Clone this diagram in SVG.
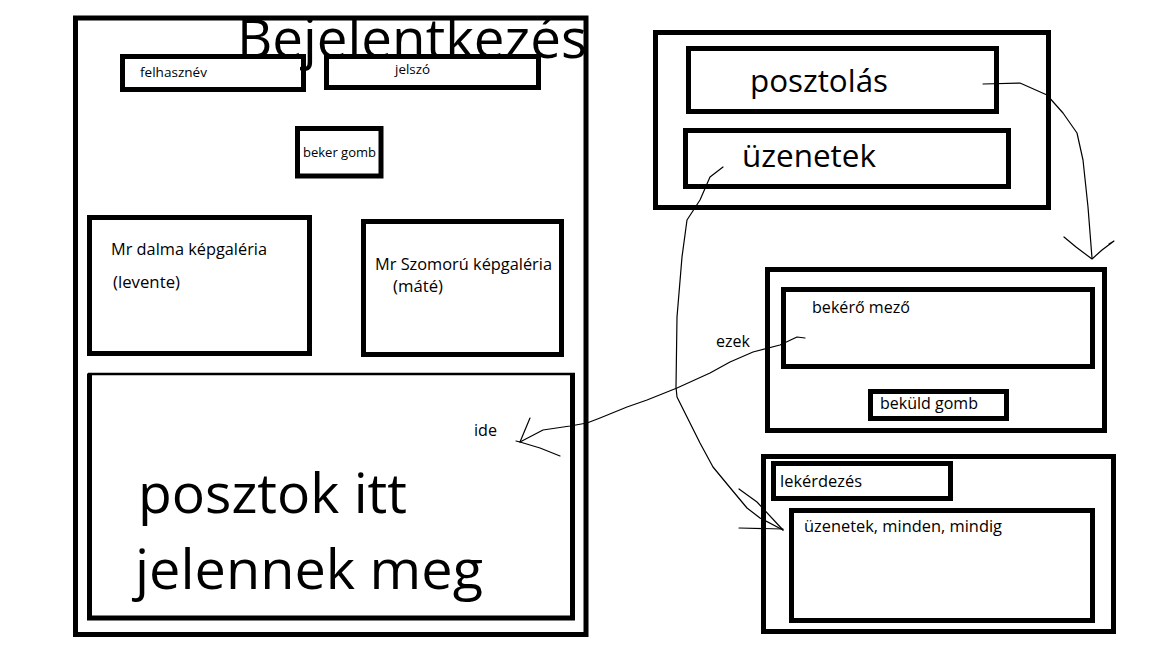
<svg xmlns="http://www.w3.org/2000/svg" width="1152" height="648" viewBox="0 0 1152 648">
<style>
.box{fill:none;stroke:#000;stroke-width:5}
.thin{fill:none;stroke:#000;stroke-width:2.5}
.wire{fill:none;stroke:#000;stroke-width:1.2;stroke-linejoin:round;stroke-linecap:round}
text{font-family:"Open Sans","Liberation Sans",sans-serif;fill:#000}
.s{font-size:13px}
.m{font-size:15.5px}
.l{font-size:31px}
.xl{font-size:54px}
</style>
<rect width="1152" height="648" fill="#fff"/>

<g id="login-page">
  <rect class="box" x="75.5" y="18" width="510.5" height="616.5"/>
  <text class="xl" x="237" y="58" textLength="350" lengthAdjust="spacingAndGlyphs">Bejelentkezés</text>
</g>
<g id="felhasznev">
  <rect class="box" x="122.5" y="56.5" width="181" height="33"/>
  <text class="s" x="140" y="77" textLength="67" lengthAdjust="spacingAndGlyphs">felhasznév</text>
</g>
<g id="jelszo">
  <rect class="box" x="326.5" y="56.5" width="212" height="31"/>
  <text class="s" x="395" y="74" textLength="35" lengthAdjust="spacingAndGlyphs">jelszó</text>
</g>
<g id="beker-gomb">
  <rect class="box" x="297.5" y="128.5" width="83.5" height="47.5"/>
  <text class="s" x="303" y="157" textLength="73" lengthAdjust="spacingAndGlyphs">beker gomb</text>
</g>
<g id="dalma-galeria">
  <rect class="box" x="89.5" y="217.5" width="220" height="136"/>
  <text class="m" x="111" y="255" textLength="156" lengthAdjust="spacingAndGlyphs">Mr dalma képgaléria</text>
  <text class="m" x="113" y="288" textLength="67" lengthAdjust="spacingAndGlyphs">(levente)</text>
</g>
<g id="szomoru-galeria">
  <rect class="box" x="363.5" y="221.5" width="198" height="133"/>
  <text class="m" x="375" y="270" textLength="177" lengthAdjust="spacingAndGlyphs">Mr Szomorú képgaléria</text>
  <text class="m" x="393" y="292" textLength="50" lengthAdjust="spacingAndGlyphs">(máté)</text>
</g>
<g id="posztok">
  <path class="box" d="M89.5,373.5 L89.5,618 L572.5,618 L572.5,373.5"/>
  <line class="thin" x1="88" y1="374" x2="575" y2="374"/>
  <text class="m" x="474" y="436" textLength="23" lengthAdjust="spacingAndGlyphs">ide</text>
  <text class="xl" x="138" y="513" textLength="269" lengthAdjust="spacingAndGlyphs">posztok itt</text>
  <text class="xl" x="135" y="589" textLength="348" lengthAdjust="spacingAndGlyphs">jelennek meg</text>
</g>

<g id="menu">
  <rect class="box" x="655.5" y="32.5" width="393" height="175"/>
</g>
<g id="posztolas">
  <rect class="box" x="688.5" y="48.5" width="308" height="63"/>
  <text class="l" x="750" y="92" textLength="138" lengthAdjust="spacingAndGlyphs">posztolás</text>
</g>
<g id="uzenetek">
  <rect class="box" x="685.5" y="130.5" width="323" height="56"/>
  <text class="l" x="742" y="167" textLength="134" lengthAdjust="spacingAndGlyphs">üzenetek</text>
</g>

<g id="posztolas-panel">
  <rect class="box" x="767.5" y="269.5" width="337" height="161"/>
</g>
<g id="bekero-mezo">
  <rect class="box" x="783.5" y="289.5" width="309" height="77"/>
  <text class="m" x="812" y="313" textLength="98" lengthAdjust="spacingAndGlyphs">bekérő mező</text>
</g>
<g id="bekuld-gomb">
  <rect class="box" x="870.5" y="391.5" width="136" height="27"/>
  <text class="m" x="880" y="409" textLength="98" lengthAdjust="spacingAndGlyphs">beküld gomb</text>
</g>

<g id="uzenetek-panel">
  <rect class="box" x="763.5" y="456.5" width="350" height="175"/>
</g>
<g id="lekerdezes">
  <rect class="box" x="773.5" y="463.5" width="177" height="35"/>
  <text class="m" x="780" y="487" textLength="82" lengthAdjust="spacingAndGlyphs">lekérdezés</text>
</g>
<g id="uzenetek-lista">
  <rect class="box" x="791.5" y="510.5" width="301" height="110"/>
  <text class="m" x="804" y="532" textLength="198" lengthAdjust="spacingAndGlyphs">üzenetek, minden, mindig</text>
</g>

<g id="connectors">
  <path class="wire" d="M983,84 L1020,83 L1047,95 L1063,113 L1077,133 L1083,160 L1088,207 L1092,258"/>
  <path class="wire" d="M1064,237 L1076,247 L1092,259 L1102,250 L1114,241 L1109,244"/>
  <path class="wire" d="M723,167 L710,177 L700,200 L687,220 L682,257 L677,317 L676,387 L677,397 L690,423 L700,443 L713,467 L732,490 L747,508 L760,518 L783,530"/>
  <path class="wire" d="M739,489 L757,502 L783,530"/>
  <path class="wire" d="M739,528 L783,529"/>
  <path class="wire" d="M805,338 L797,337 L780,345 L753,352 L730,362 L710,373 L677,388 L647,400 L627,407 L600,418 L587,423 L570,426 L543,430 L520,442"/>
  <path class="wire" d="M530,418 L520,442 L540,448 L560,456"/>
  <path class="wire" d="M516,441 L520,442"/>
  <text class="m" x="716" y="347" textLength="34" lengthAdjust="spacingAndGlyphs">ezek</text>
</g>
</svg>
